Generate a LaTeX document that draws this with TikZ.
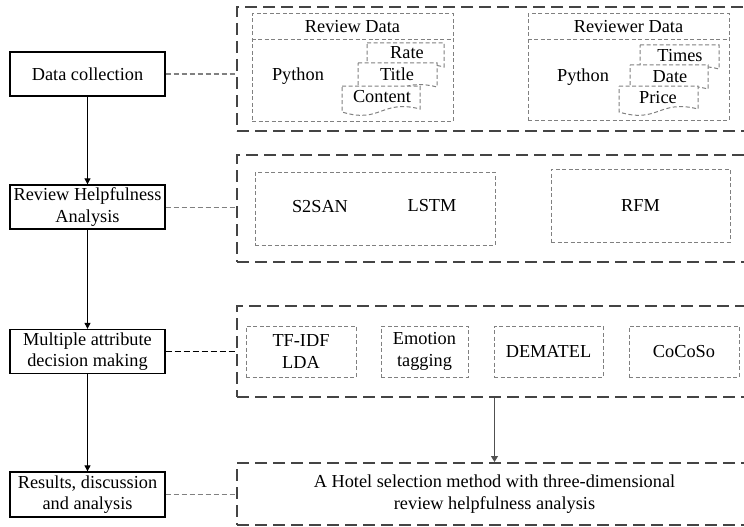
\documentclass[tikz,border=0pt]{standalone}
\usepackage{fontspec}
\setmainfont{Liberation Serif}
\usetikzlibrary{arrows.meta}

\definecolor{framegray}{HTML}{444444}
\definecolor{thingray}{HTML}{808080}
\definecolor{arrowgray}{HTML}{505050}

\tikzset{
  every node/.style={font=\fontsize{18.3}{21.5}\selectfont, inner sep=0pt, align=center},
  bigbox/.style={draw=framegray, line width=2pt, dash pattern=on 12pt off 6pt},
  innerbox/.style={draw=thingray, line width=1pt, dash pattern=on 4pt off 2.5pt},
  stepbox/.style={draw=black, line width=1.3pt, minimum width=155pt, minimum height=44pt},
  graylink/.style={draw=thingray, line width=1pt, dash pattern=on 5pt off 3pt},
  blacklink/.style={draw=black, line width=1pt, dash pattern=on 6pt off 3pt},
  flow/.style={draw=black, line width=0.9pt, -{Triangle[length=6pt,width=6pt]}},
  flowgray/.style={draw=arrowgray, line width=1.1pt, -{Triangle[length=6pt,width=7pt]}},
  docline/.style={draw=thingray, fill=white, line width=1pt, dash pattern=on 4pt off 2.5pt},
}

% stacked document sheet: left, top, width, height (y grows downward)
\newcommand\docsheet[4]{%
  \filldraw[docline] ({#1},{-#2}) -- ({#1+#3},{-#2}) -- ({#1+#3},{-#2-#4})
    .. controls ({#1+0.5*#3},{-#2-#4+10}) and ({#1+0.5*#3},{-#2-#4-15}) .. ({#1},{-#2-#4-3}) -- cycle;}

\begin{document}
\begin{tikzpicture}[x=1pt,y=1pt]
\path[clip] (0,0) rectangle (744,-527);
\fill[white] (0,0) rectangle (744,-527);

% process steps on the left
\node[stepbox] (dc) at (87.5,-74) {Data collection};
\node[stepbox] (rh) at (87.5,-207) {Review Helpfulness\\Analysis};
\node[stepbox] (ma) at (87.5,-351.5) {Multiple attribute\\decision making};
\node[stepbox, minimum height=45pt] (rs) at (87.5,-494.5) {Results, discussion\\and analysis};

\draw[flow] (dc.south) -- (rh.north);
\draw[flow] (rh.south) -- (ma.north);
\draw[flow] (ma.south) -- (rs.north);

% outer dashed frames
\node[bigbox, minimum width=533pt, minimum height=124pt] (fa) at (503.5,-69) {};
\node[bigbox, minimum width=533pt, minimum height=107pt] (fb) at (503.5,-208.5) {};
\node[bigbox, minimum width=533pt, minimum height=91.5pt] (fc) at (503.5,-351.25) {};
\node[bigbox, minimum width=533pt, minimum height=62pt] (fd) at (503.5,-494) {};

\draw[graylink] (dc.east) -- (dc.east -| fa.west);
\draw[graylink] (rh.east) -- (rh.east -| fb.west);
\draw[blacklink] (ma.east) -- (ma.east -| fc.west);
\draw[graylink] (rs.east) -- (rs.east -| fd.west);

% data collection: review data
\node[innerbox, minimum width=201pt, minimum height=107pt] (rd) at (352.5,-67.5) {};
\draw[innerbox] ([yshift=-26pt]rd.north west) -- ([yshift=-26pt]rd.north east);
\node (rdt) at (352.5,-27) {Review Data};
\node (rdp) at (298,-76) {Python};
\docsheet{367}{43}{77}{24}
\node (rate) at (407,-53) {Rate};
\docsheet{358}{63}{79}{24}
\node (title) at (397,-74) {Title};
\docsheet{342}{86}{78}{23}
\node (content) at (382,-97) {Content};

% data collection: reviewer data
\node[innerbox, minimum width=201pt, minimum height=106pt] (vd) at (628.5,-67) {};
\draw[innerbox] ([yshift=-26pt]vd.north west) -- ([yshift=-26pt]vd.north east);
\node (vdt) at (628.5,-27) {Reviewer Data};
\node (vdp) at (583,-77) {Python};
\docsheet{640}{45}{79}{24}
\node (times) at (680,-56) {Times};
\docsheet{630}{65}{78}{24}
\node (date) at (670,-77) {Date};
\docsheet{619}{86}{79}{23}
\node (price) at (658,-98) {Price};

% helpfulness models
\node[innerbox, minimum width=240pt, minimum height=73pt] (nn) at (375,-208.5) {};
\node (s2) at (320,-207) {S2SAN};
\node (lstm) at (432,-206) {LSTM};
\node[innerbox, minimum width=179pt, minimum height=73pt] (rfm) at (640.5,-205.5) {RFM};

% decision-making methods
\node[innerbox, minimum width=110pt, minimum height=51pt] (tf) at (301,-351.5) {TF-IDF\\LDA};
\node[innerbox, minimum width=87pt, minimum height=51pt] (em) at (424.5,-351.5) {Emotion\\tagging};
\node[innerbox, minimum width=109pt, minimum height=51pt] (de) at (548.5,-351.5) {DEMATEL};
\node[innerbox, minimum width=110pt, minimum height=51pt] (co) at (684,-351.5) {CoCoSo};

% outcome
\node (hotel) at (494.5,-494) {A Hotel selection method with three-dimensional\\review helpfulness analysis};
\draw[flowgray] (fc.south -| hotel) -- (fd.north -| hotel);
\end{tikzpicture}
\end{document}
